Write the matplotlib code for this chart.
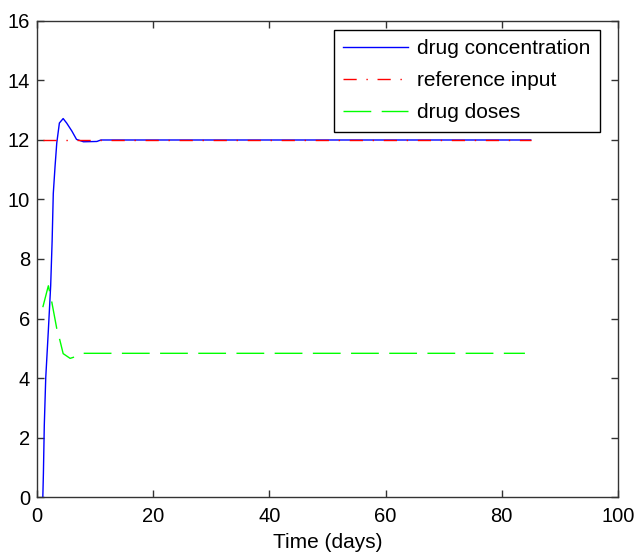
import numpy as np
import matplotlib
matplotlib.use("Agg")
import matplotlib.pyplot as plt

plt.rcParams['font.family'] = ['Liberation Sans', 'DejaVu Sans']
plt.rcParams['lines.scale_dashes'] = False

# drug concentration
t_conc = [1.0, 1.1, 1.25, 1.5, 1.95, 2.35, 2.6, 2.8, 3.1, 3.4, 3.85, 4.5, 5.1, 6.0, 6.8, 8.0, 10.3, 11.0, 85.0]
conc = [0.0, 0.8, 2.4, 4.0, 5.6, 7.1, 8.6, 10.2, 11.1, 11.9, 12.57, 12.72, 12.57, 12.3, 12.02, 11.94, 11.95, 12.0, 12.0]

# reference input
t_ref = [1.0, 85.0]
ref = [12.0, 12.0]

# drug doses
t_dose = [1.0, 1.95, 2.5, 3.4, 3.95, 4.5, 5.7, 6.8, 7.9, 84.0]
dose = [6.38, 7.1, 6.6, 5.66, 5.26, 4.82, 4.66, 4.73, 4.83, 4.83]

fig = plt.figure(figsize=(6.35, 5.52), dpi=100)
ax = fig.add_axes([0.0583, 0.0996, 0.9147, 0.8624])

ax.plot(t_conc, conc, color='#0000ff', lw=1.0, label='drug concentration')
ax.plot(t_ref, ref, color='#ff0000', lw=1.0, dashes=[9.5, 7, 1, 7], label='reference input')
ax.plot(t_dose, dose, color='#00ff00', lw=1.0, dashes=[20, 7.5], label='drug doses')

ax.set_xlim(0, 100)
ax.set_ylim(0, 16)
ax.set_xticks(np.arange(0, 101, 20))
ax.set_yticks(np.arange(0, 17, 2))
ax.tick_params(direction='in', top=True, right=True, length=5, width=1,
               labelsize=14.5, colors='#333333', labelcolor='black')
ax.tick_params(axis='x', pad=7)
ax.tick_params(axis='y', pad=5)
for s in ax.spines.values():
    s.set_linewidth(1.0)
    s.set_color('#333333')

ax.set_xlabel('Time (days)', fontsize=15, labelpad=5)

leg = ax.legend(loc='upper right', bbox_to_anchor=(0.969, 0.981), borderaxespad=0,
                fontsize=15, handlelength=3.1, handletextpad=0.45, labelspacing=0.62,
                fancybox=False, framealpha=1, edgecolor='black', borderpad=0.45)
leg.get_frame().set_linewidth(1.0)

fig.savefig('out.png', dpi=100)
